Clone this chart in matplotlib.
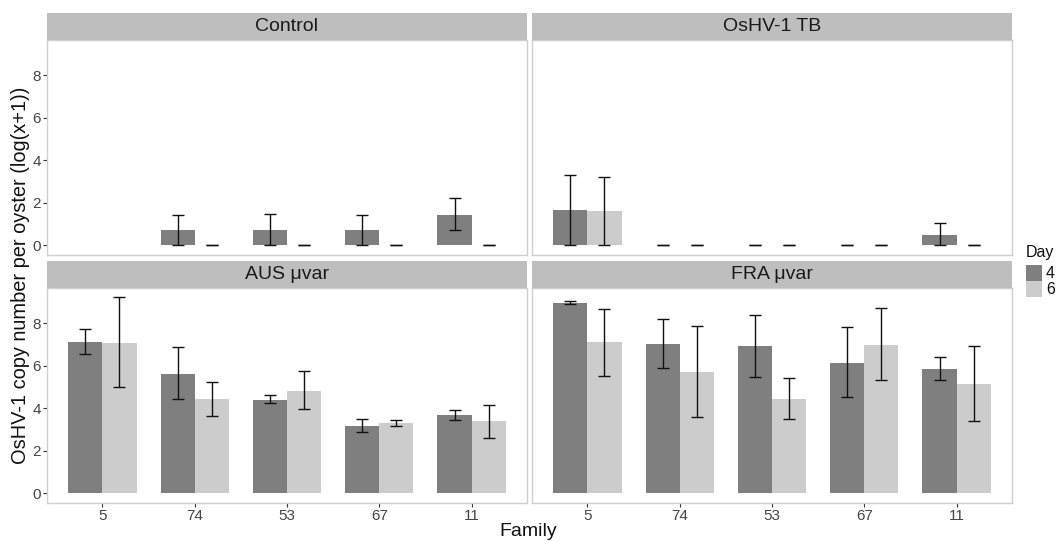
import numpy as np
import matplotlib
matplotlib.use("Agg")
import matplotlib.pyplot as plt
from matplotlib.patches import Rectangle

plt.rcParams['font.family'] = ['Liberation Sans', 'DejaVu Sans']

families = ["5", "74", "53", "67", "11"]
panels = ["Control", "OsHV-1 TB", "AUS \u03bcvar", "FRA \u03bcvar"]
days = ["4", "6"]

# mean values (log(x+1)), NaN = no data
ctrl_d4 = [np.nan, 0.71, 0.74, 0.71, 1.44]
ctrl_d6 = [np.nan, 0.0, 0.0, 0.0, 0.0]
ctrl_d4_lo = [np.nan, 0.0, 0.0, 0.0, 0.72]
ctrl_d4_hi = [np.nan, 1.41, 1.46, 1.41, 2.20]
ctrl_d6_lo = [np.nan, 0.0, 0.0, 0.0, 0.0]
ctrl_d6_hi = [np.nan, 0.0, 0.0, 0.0, 0.0]

tb_d4 = [1.65, 0.0, 0.0, 0.0, 0.50]
tb_d6 = [1.60, 0.0, 0.0, 0.0, 0.0]
tb_d4_lo = [0.0, 0.0, 0.0, 0.0, 0.0]
tb_d4_hi = [3.29, 0.0, 0.0, 0.0, 1.04]
tb_d6_lo = [0.0, 0.0, 0.0, 0.0, 0.0]
tb_d6_hi = [3.20, 0.0, 0.0, 0.0, 0.0]

aus_d4 = [7.12, 5.63, 4.39, 3.18, 3.69]
aus_d6 = [7.09, 4.44, 4.83, 3.29, 3.39]
aus_d4_lo = [6.54, 4.42, 4.27, 2.89, 3.47]
aus_d4_hi = [7.75, 6.89, 4.61, 3.51, 3.94]
aus_d6_lo = [5.00, 3.64, 3.97, 3.17, 2.62]
aus_d6_hi = [9.22, 5.25, 5.74, 3.47, 4.14]

fra_d4 = [8.97, 7.04, 6.92, 6.15, 5.87]
fra_d6 = [7.11, 5.71, 4.44, 7.00, 5.16]
fra_d4_lo = [8.93, 5.90, 5.49, 4.52, 5.32]
fra_d4_hi = [9.07, 8.20, 8.38, 7.83, 6.42]
fra_d6_lo = [5.51, 3.59, 3.50, 5.33, 3.40]
fra_d6_hi = [8.69, 7.86, 5.43, 8.71, 6.93]

panel_data = [
    (ctrl_d4, ctrl_d6, ctrl_d4_lo, ctrl_d4_hi, ctrl_d6_lo, ctrl_d6_hi),
    (tb_d4, tb_d6, tb_d4_lo, tb_d4_hi, tb_d6_lo, tb_d6_hi),
    (aus_d4, aus_d6, aus_d4_lo, aus_d4_hi, aus_d6_lo, aus_d6_hi),
    (fra_d4, fra_d6, fra_d4_lo, fra_d4_hi, fra_d6_lo, fra_d6_hi),
]

W, H = 1060, 541
fig = plt.figure(figsize=(W / 100, H / 100), dpi=100)
fig.patch.set_facecolor("white")

col_dark = "#7f7f7f"
col_light = "#cccccc"
strip_bg = "#bebebe"
border = "#cfcfcf"

# pixel layout (left, right), (strip top, panel top, panel bottom)
xs = [(47, 527), (532, 1012)]
ys = [(13, 40, 255), (261, 288, 503)]

bw = 0.37
x = np.arange(len(families))

def fx(px):
    return px / W

def fy(py):
    return 1 - py / H

for i, name in enumerate(panels):
    r, c = divmod(i, 2)
    x0, x1 = xs[c]
    st, pt, pb = ys[r]
    ax = fig.add_axes([fx(x0), fy(pb), fx(x1 - x0), (pb - pt) / H])
    sax = fig.add_axes([fx(x0), fy(pt), fx(x1 - x0), (pt - st) / H])
    sax.set_facecolor(strip_bg)
    sax.set_xticks([]); sax.set_yticks([])
    for s in sax.spines.values():
        s.set_visible(False)
    sax.text(0.5, 0.5, name, ha="center", va="center", fontsize=14,
             color="#1a1a1a", transform=sax.transAxes)

    d4, d6, d4lo, d4hi, d6lo, d6hi = [np.array(a, dtype=float) for a in panel_data[i]]
    for vals, lo, hi, off, colr in [(d4, d4lo, d4hi, -bw / 2, col_dark),
                                    (d6, d6lo, d6hi, bw / 2, col_light)]:
        m = ~np.isnan(vals)
        ax.bar(x[m] + off, vals[m], width=bw, color=colr, edgecolor="none", zorder=2)
        ax.errorbar(x[m] + off, vals[m], yerr=[vals[m] - lo[m], hi[m] - vals[m]],
                    fmt="none", ecolor="#111111", elinewidth=1.0, capsize=4.2,
                    capthick=1.0, zorder=3)

    ax.set_xlim(-0.6, len(families) - 0.4)
    ax.set_ylim(-0.46, 9.66)
    ax.set_yticks([0, 2, 4, 6, 8])
    ax.set_xticks(x)
    ax.tick_params(axis="both", length=3, width=0.8, color="#333333",
                   labelsize=11, labelcolor="#444444", pad=1.5)
    if c == 1:
        ax.tick_params(axis="y", left=False, labelleft=False)
    if r == 0:
        ax.tick_params(axis="x", bottom=False, labelbottom=False)
    else:
        ax.set_xticklabels(families)
    for s in ax.spines.values():
        s.set_color(border)
        s.set_linewidth(1.0)

fig.text(fx(21), fy(275), "OsHV-1 copy number per oyster (log(x+1))",
         rotation=90, ha="center", va="center", fontsize=14.4, color="#111111")
fig.text(fx(528), fy(532), "Family", ha="center", va="center",
         fontsize=14, color="#111111")

# legend (manual)
fig.text(fx(1026), fy(253), "Day", ha="left", va="center", fontsize=11.5,
         color="#111111")
for k, (lab, colr) in enumerate(zip(days, [col_dark, col_light])):
    top = 265 + 16 * k
    fig.patches.append(Rectangle((fx(1026), fy(top + 16)), fx(16), 16 / H,
                                 transform=fig.transFigure, facecolor=colr,
                                 edgecolor="none"))
    fig.text(fx(1046), fy(top + 8), lab, ha="left", va="center",
             fontsize=11.5, color="#111111")

fig.savefig("out.png", dpi=100)
